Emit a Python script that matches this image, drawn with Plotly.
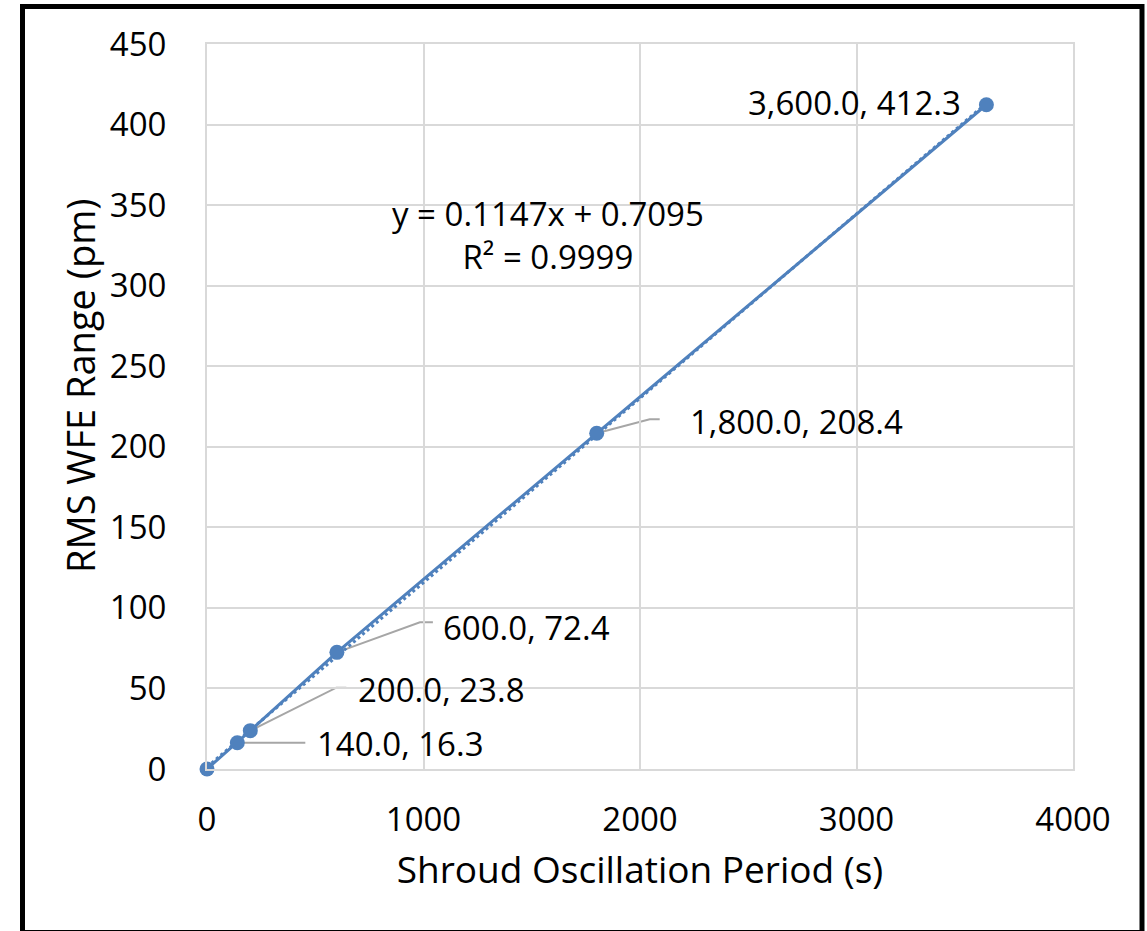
import numpy as np
import plotly.graph_objects as go

# ---- data ----
period_s = [0, 140, 200, 600, 1800, 3600]
rms_wfe_pm = [0.0, 16.3, 23.8, 72.4, 208.4, 412.3]
x_ticks = [0, 1000, 2000, 3000, 4000]
y_ticks = [0, 50, 100, 150, 200, 250, 300, 350, 400, 450]
equation_text = "y = 0.1147x + 0.7095<br>R² = 0.9999"
x_title = "Shroud Oscillation Period (s)"
y_title = "RMS WFE Range (pm)"

# label offsets (pixels, screen: +x right, +y down) : text anchor + leader elbow + leader end
label_layout = {
    140: dict(tx=78, ty=1, elbow=(68, 0), end=(68, 0), anchor="left"),
    200: dict(tx=106, ty=-41, elbow=(86, -43), end=(96, -43), anchor="left"),
    600: dict(tx=104, ty=-25, elbow=(83, -30), end=(96, -30), anchor="left"),
    1800: dict(tx=91, ty=-12, elbow=(53, -14), end=(63, -14), anchor="left"),
    3600: dict(tx=-23, ty=-2, elbow=None, end=None, anchor="right"),
    0: None,
}

BLUE = "#4F81BD"
FONT = "Open Sans"
W, H = 1147, 931
L, R, T, B = 207, 74, 44, 162

slope, intercept = np.polyfit(period_s, rms_wfe_pm, 1)
trend_x = np.array([min(period_s), max(period_s)], dtype=float)
trend_y = slope * trend_x + intercept

fig = go.Figure()
fig.add_trace(go.Scatter(x=trend_x, y=trend_y, mode="lines",
                         line=dict(color=BLUE, width=3, dash="dot"),
                         showlegend=False, hoverinfo="skip", cliponaxis=False))
fig.add_trace(go.Scatter(x=period_s, y=rms_wfe_pm, mode="lines+markers",
                         line=dict(color=BLUE, width=3),
                         marker=dict(color=BLUE, size=15),
                         showlegend=False, cliponaxis=False))

shapes = []
annotations = []
for xv, yv in zip(period_s, rms_wfe_pm):
    spec = label_layout.get(xv)
    if not spec:
        continue
    annotations.append(dict(
        x=xv, y=yv, xref="x", yref="y", showarrow=False,
        text=f"{xv:,.1f}, {yv:,.1f}", xanchor=spec["anchor"], yanchor="middle",
        xshift=spec["tx"], yshift=-spec["ty"],
        font=dict(family=FONT, size=33, color="black")))
    if spec["elbow"] is not None:
        ex, ey = spec["elbow"]
        nx, ny = spec["end"]
        shapes.append(dict(
            type="path", xref="x", yref="y", xsizemode="pixel", ysizemode="pixel",
            xanchor=xv, yanchor=yv,
            path=f"M 0,0 L {ex},{-ey} L {nx},{-ny}",
            line=dict(color="#A6A6A6", width=2), layer="below"))

pw, ph = W - L - R, H - T - B
def px_x(p):
    return (p - L) / pw
def px_y(p):
    return (H - B - p) / ph

# equation of trend line
annotations.append(dict(
    x=px_x(548), y=px_y(235), xref="paper", yref="paper", showarrow=False,
    text=equation_text, xanchor="center", yanchor="middle", align="center",
    font=dict(family=FONT, size=33, color="black")))

# y axis title
annotations.append(dict(
    x=px_x(80), y=px_y(386), xref="paper", yref="paper", showarrow=False,
    text=y_title, textangle=-90, xanchor="center", yanchor="middle",
    font=dict(family=FONT, size=38, color="black")))

# outer frame
shapes.append(dict(type="rect", xref="paper", yref="paper",
                   x0=px_x(22.5), x1=px_x(1142), y0=px_y(932.5), y1=px_y(6.5),
                   line=dict(color="black", width=5), layer="above"))

axis_common = dict(showgrid=True, gridcolor="#D9D9D9", gridwidth=2,
                   zeroline=False, showline=True, linecolor="#D9D9D9",
                   linewidth=2, mirror=True, ticks="",
                   tickfont=dict(family=FONT, size=33, color="black"))

fig.update_layout(
    width=W, height=H, autosize=False,
    margin=dict(l=L, r=R, t=T, b=B, pad=0),
    plot_bgcolor="white", paper_bgcolor="white",
    xaxis=dict(range=[0, 4000], tickvals=x_ticks, ticklabelstandoff=20,
               title=dict(text=x_title, standoff=18,
                          font=dict(family=FONT, size=37, color="black")),
               **axis_common),
    yaxis=dict(range=[0, 450], tickvals=y_ticks, ticklabelstandoff=32,
               **axis_common),
    shapes=shapes, annotations=annotations,
)

fig.write_html("out.html", config={"displayModeBar": False},
               post_script="document.body.style.margin='0';document.body.style.overflow='hidden';")
